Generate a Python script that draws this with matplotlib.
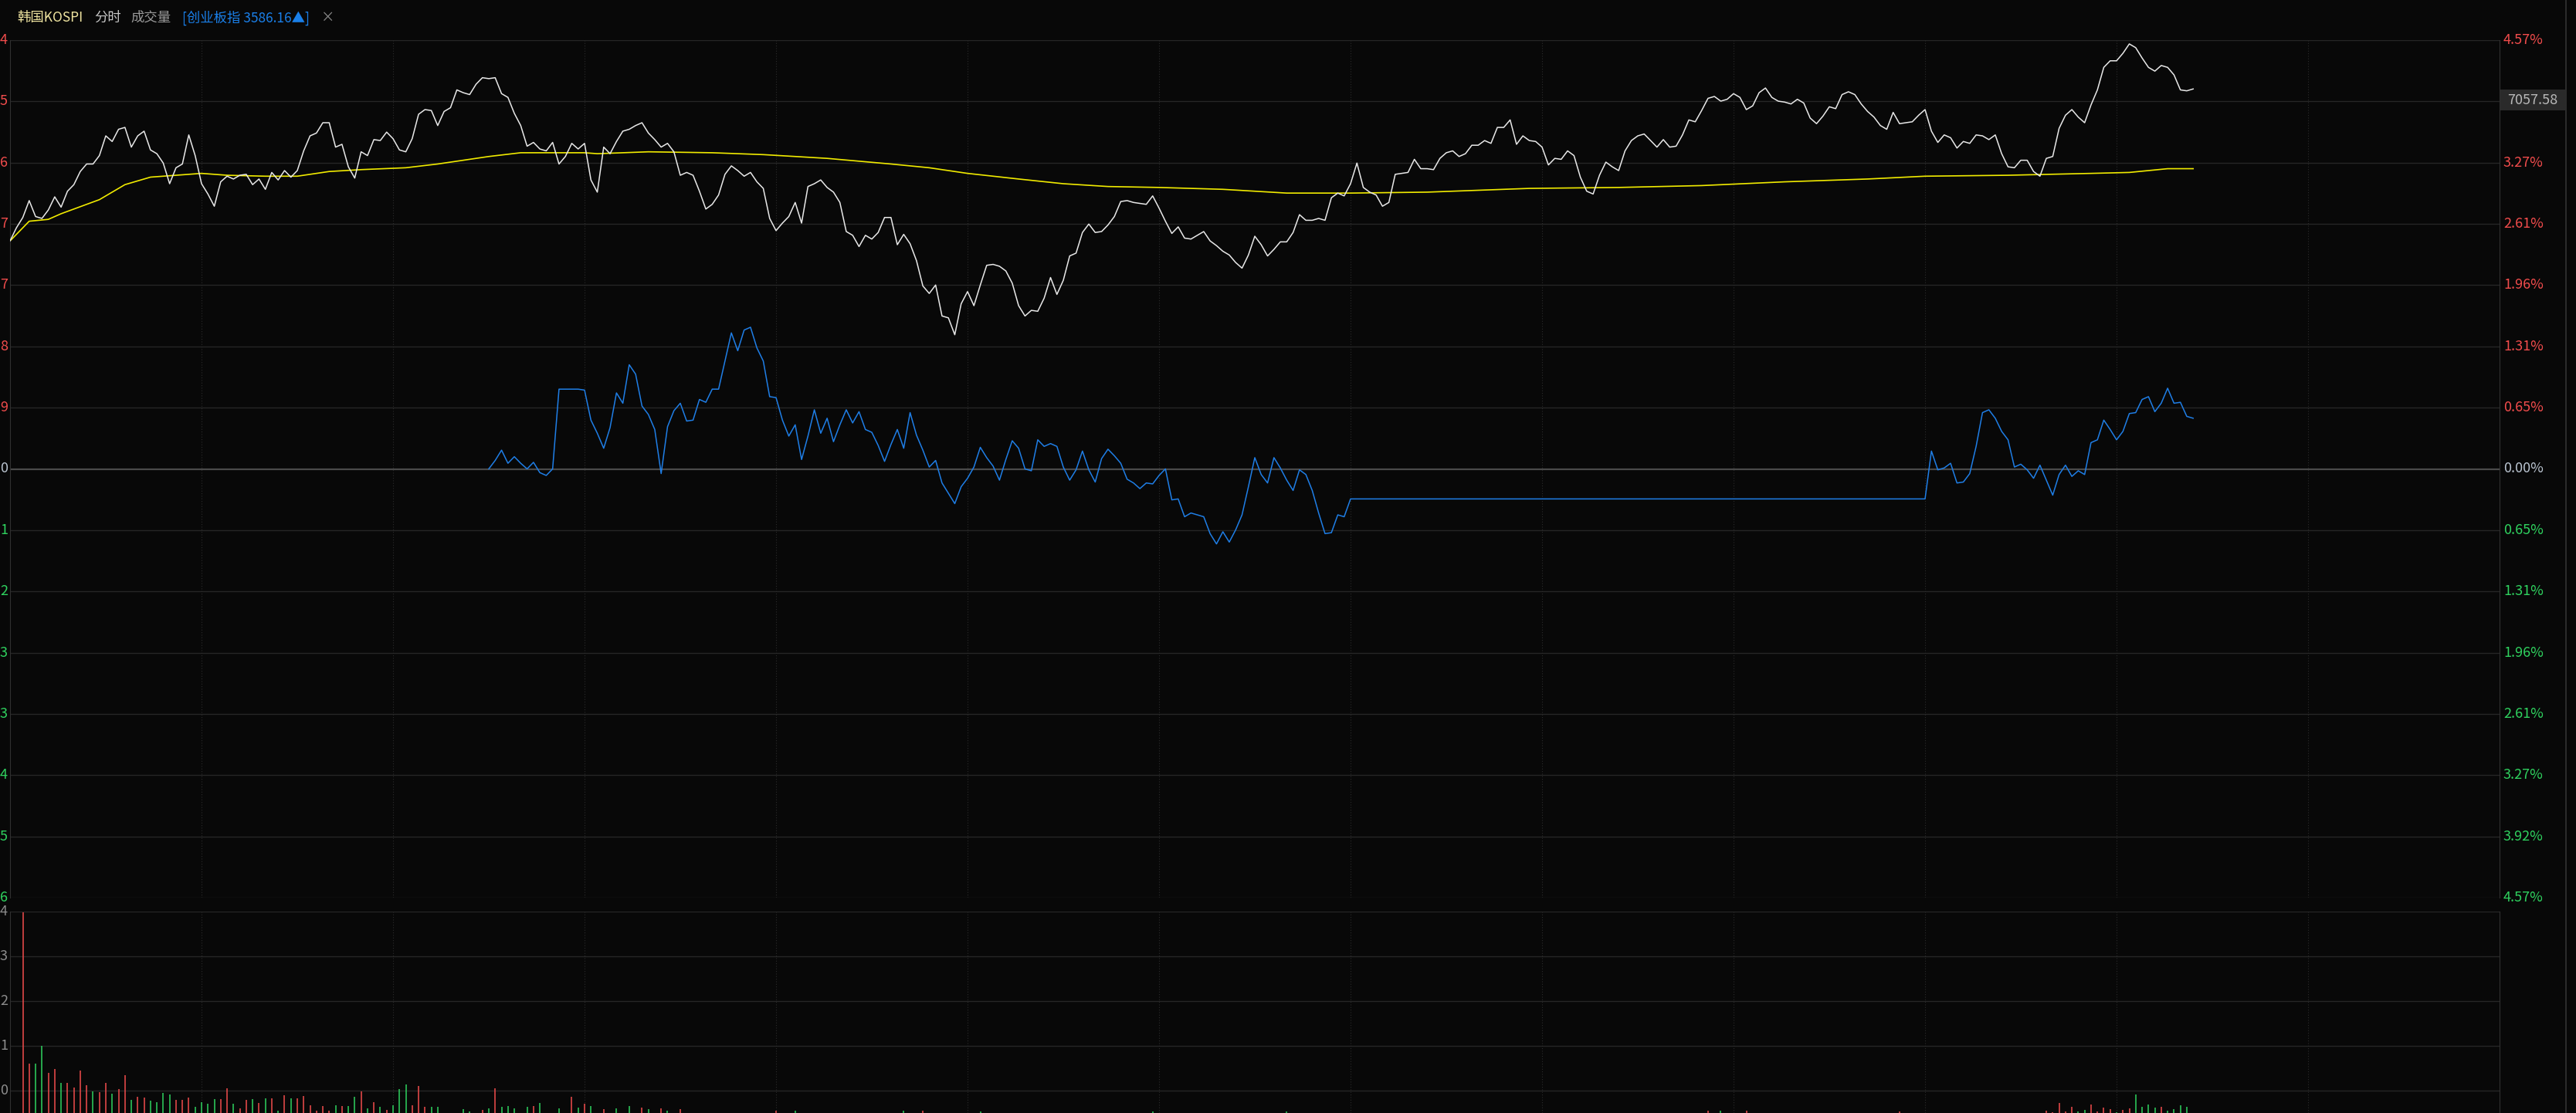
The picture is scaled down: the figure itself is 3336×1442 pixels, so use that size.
import matplotlib
matplotlib.use('Agg')
import matplotlib.pyplot as plt
from matplotlib.patches import Rectangle
from matplotlib.lines import Line2D

plt.rcParams['font.family'] = ['Noto Sans CJK SC', 'DejaVu Sans']

# 韩国KOSPI 分时: % change vs previous close, one value per minute from 09:00
price_pct = [
    2.43, 2.57, 2.68, 2.86, 2.69, 2.67, 2.76, 2.90, 2.79, 2.96,
    3.03, 3.17, 3.25, 3.25, 3.34, 3.55, 3.49, 3.62, 3.64, 3.43,
    3.55, 3.60, 3.40, 3.36, 3.26, 3.04, 3.21, 3.25, 3.56, 3.34,
    3.04, 2.93, 2.80, 3.06, 3.12, 3.09, 3.13, 3.14, 3.03, 3.09,
    2.98, 3.16, 3.08, 3.18, 3.11, 3.18, 3.39, 3.55, 3.58, 3.69,
    3.69, 3.43, 3.46, 3.22, 3.10, 3.38, 3.34, 3.51, 3.50, 3.59,
    3.52, 3.40, 3.38, 3.52, 3.78, 3.83, 3.82, 3.66, 3.81, 3.85,
    4.04, 4.01, 3.99, 4.10, 4.17, 4.16, 4.17, 4.00, 3.96, 3.79,
    3.66, 3.44, 3.48, 3.41, 3.39, 3.48, 3.25, 3.33, 3.47, 3.41,
    3.47, 3.08, 2.95, 3.43, 3.36, 3.49, 3.60, 3.62, 3.66, 3.69,
    3.58, 3.51, 3.43, 3.47, 3.38, 3.13, 3.16, 3.13, 2.96, 2.77,
    2.82, 2.92, 3.14, 3.23, 3.18, 3.12, 3.16, 3.06, 2.99, 2.67,
    2.54, 2.62, 2.69, 2.84, 2.62, 3.01, 3.04, 3.08, 3.00, 2.95,
    2.84, 2.53, 2.49, 2.37, 2.49, 2.45, 2.52, 2.68, 2.68, 2.39,
    2.50, 2.40, 2.22, 1.95, 1.87, 1.96, 1.63, 1.61, 1.43, 1.76,
    1.89, 1.74, 1.96, 2.17, 2.18, 2.16, 2.11, 1.98, 1.74, 1.63,
    1.69, 1.68, 1.82, 2.04, 1.86, 2.01, 2.27, 2.30, 2.52, 2.61,
    2.52, 2.53, 2.60, 2.69, 2.85, 2.86, 2.84, 2.83, 2.82, 2.91,
    2.78, 2.64, 2.51, 2.58, 2.46, 2.45, 2.49, 2.53, 2.43, 2.38,
    2.32, 2.28, 2.20, 2.14, 2.28, 2.48, 2.39, 2.27, 2.34, 2.42,
    2.42, 2.52, 2.71, 2.65, 2.65, 2.67, 2.65, 2.89, 2.94, 2.91,
    3.04, 3.26, 3.00, 2.95, 2.92, 2.80, 2.84, 3.14, 3.15, 3.16,
    3.30, 3.20, 3.20, 3.19, 3.31, 3.37, 3.39, 3.33, 3.36, 3.45,
    3.45, 3.50, 3.47, 3.64, 3.64, 3.72, 3.46, 3.55, 3.50, 3.49,
    3.43, 3.24, 3.31, 3.30, 3.39, 3.34, 3.11, 2.96, 2.93, 3.13,
    3.27, 3.22, 3.18, 3.39, 3.50, 3.55, 3.57, 3.50, 3.43, 3.51,
    3.43, 3.44, 3.56, 3.72, 3.70, 3.82, 3.95, 3.97, 3.92, 3.94,
    4.00, 3.96, 3.83, 3.87, 4.01, 4.06, 3.96, 3.92, 3.91, 3.89,
    3.94, 3.90, 3.74, 3.68, 3.76, 3.86, 3.84, 3.99, 4.02, 3.99,
    3.89, 3.81, 3.75, 3.66, 3.62, 3.80, 3.68, 3.69, 3.70, 3.77,
    3.83, 3.60, 3.48, 3.56, 3.53, 3.42, 3.49, 3.47, 3.56, 3.55,
    3.51, 3.56, 3.36, 3.22, 3.21, 3.29, 3.29, 3.17, 3.12, 3.31,
    3.33, 3.63, 3.77, 3.83, 3.75, 3.69, 3.88, 4.04, 4.28, 4.35,
    4.35, 4.43, 4.53, 4.49, 4.38, 4.28, 4.24, 4.30, 4.28, 4.20,
    4.04, 4.03, 4.05,
]

# 均价 (yellow), read at a few minutes
avg_min = [0, 1, 3, 6, 8, 10, 14, 18, 22, 26, 30, 34, 40, 45, 50, 55, 62, 67,
           75, 80, 90, 92, 100, 110, 118, 128, 138, 144, 150, 158, 165, 172,
           180, 190, 200, 210, 222, 238, 252, 265, 278, 291, 300, 313, 326,
           332, 338, 342]
avg_pct = [2.43, 2.50, 2.64, 2.66, 2.72, 2.77, 2.87, 3.03, 3.11, 3.13, 3.15,
           3.13, 3.12, 3.12, 3.17, 3.19, 3.21, 3.25, 3.33, 3.37, 3.37, 3.36,
           3.38, 3.37, 3.35, 3.31, 3.25, 3.21, 3.15, 3.09, 3.04, 3.01, 3.00,
           2.98, 2.94, 2.94, 2.95, 2.99, 3.00, 3.02, 3.06, 3.09, 3.12, 3.13,
           3.15, 3.16, 3.20, 3.20]

# [创业板指] overlay, % change; no quotes between 210 and 300
cyb_min = list(range(75, 211)) + list(range(300, 343))
cyb_pct = [
    0.00, 0.09, 0.20, 0.06, 0.13, 0.06, 0.00, 0.07, -0.04, -0.07,
    0.00, 0.85, 0.85, 0.85, 0.85, 0.84, 0.52, 0.38, 0.22, 0.44,
    0.81, 0.70, 1.11, 1.01, 0.67, 0.58, 0.42, -0.05, 0.45, 0.62,
    0.70, 0.51, 0.52, 0.74, 0.71, 0.85, 0.85, 1.15, 1.45, 1.26,
    1.48, 1.51, 1.29, 1.15, 0.77, 0.76, 0.52, 0.35, 0.47, 0.10,
    0.35, 0.63, 0.38, 0.54, 0.29, 0.47, 0.63, 0.49, 0.61, 0.42,
    0.39, 0.25, 0.08, 0.26, 0.42, 0.22, 0.60, 0.36, 0.20, 0.02,
    0.09, -0.15, -0.26, -0.37, -0.19, -0.10, 0.02, 0.23, 0.12, 0.03,
    -0.12, 0.10, 0.30, 0.22, 0.00, -0.02, 0.31, 0.24, 0.27, 0.24,
    0.02, -0.12, -0.01, 0.19, -0.01, -0.14, 0.11, 0.21, 0.14, 0.06,
    -0.11, -0.15, -0.21, -0.15, -0.16, -0.07, 0.00, -0.33, -0.32, -0.51,
    -0.47, -0.49, -0.51, -0.69, -0.80, -0.67, -0.78, -0.65, -0.49, -0.19,
    0.12, -0.06, -0.15, 0.12, 0.01, -0.12, -0.23, -0.01, -0.06, -0.23,
    -0.47, -0.69, -0.68, -0.49, -0.51, -0.32,
    -0.32, 0.19, -0.01, 0.01, 0.06, -0.15, -0.14, -0.05, 0.24, 0.60,
    0.63, 0.54, 0.40, 0.31, 0.02, 0.05, -0.01, -0.10, 0.04, -0.12,
    -0.28, -0.06, 0.04, -0.08, -0.02, -0.06, 0.28, 0.31, 0.52, 0.42,
    0.31, 0.40, 0.59, 0.60, 0.74, 0.77, 0.61, 0.70, 0.86, 0.70,
    0.71, 0.56, 0.54,
]

# 成交量, in grid steps above the panel's lower edge; 1 = up (red), 0 = down (green)
vol_min = list(range(2, 84)) + [86, 88, 89, 90, 91, 93, 95, 97, 99, 100, 102, 103, 105,
                                 120, 123, 140, 143, 152, 179, 200, 266, 268, 272, 296,
                                 319, 320, 321, 322, 323, 324, 325, 326, 327, 328, 329, 330,
                                 331, 332, 333, 334, 335, 336, 337, 338, 339, 340, 341]
vol_val = [4.49, 1.10, 1.10, 1.50, 0.90, 0.99, 0.67, 0.67, 0.57, 0.94,
           0.62, 0.49, 0.47, 0.68, 0.43, 0.53, 0.84, 0.29, 0.37, 0.34,
           0.28, 0.24, 0.45, 0.41, 0.29, 0.29, 0.34, 0.14, 0.24, 0.21,
           0.31, 0.31, 0.55, 0.21, 0.10, 0.29, 0.31, 0.22, 0.32, 0.32,
           0.05, 0.40, 0.32, 0.32, 0.38, 0.17, 0.06, 0.15, 0.05, 0.17,
           0.15, 0.15, 0.36, 0.48, 0.10, 0.24, 0.13, 0.07, 0.18, 0.53,
           0.63, 0.18, 0.60, 0.13, 0.13, 0.13, 0.00, 0.00, 0.00, 0.08,
           0.03, 0.00, 0.07, 0.11, 0.56, 0.13, 0.15, 0.11, 0.00, 0.13,
           0.15, 0.22,
           0.10, 0.36, 0.12, 0.20, 0.15, 0.08, 0.10, 0.15, 0.12, 0.08, 0.10, 0.06, 0.08,
           0.05, 0.06, 0.05, 0.05, 0.04, 0.04, 0.04, 0.06, 0.05, 0.05, 0.04,
           0.05, 0.02, 0.22, 0.03, 0.14, 0.03, 0.07, 0.19, 0.03, 0.12, 0.09, 0.02,
           0.07, 0.10, 0.41, 0.14, 0.19, 0.12, 0.14, 0.05, 0.09, 0.17, 0.14]
vol_up = [1, 1, 0, 0, 1, 1, 0, 1, 1, 1,
          1, 0, 1, 1, 0, 1, 1, 0, 1, 1,
          0, 0, 0, 0, 1, 1, 1, 0, 0, 0,
          0, 1, 1, 0, 1, 1, 0, 1, 0, 1,
          0, 1, 0, 1, 1, 1, 1, 1, 1, 0,
          1, 0, 0, 1, 0, 1, 0, 1, 0, 0,
          0, 1, 1, 1, 0, 0, 0, 0, 0, 0,
          0, 0, 1, 0, 1, 0, 0, 0, 0, 0,
          1, 0,
          0, 1, 0, 1, 0, 1, 0, 0, 1, 0, 1, 0, 1,
          1, 0, 0, 1, 0, 0, 0, 1, 0, 1, 1,
          1, 1, 1, 1, 1, 0, 0, 1, 1, 1, 1, 0,
          1, 1, 0, 0, 0, 0, 1, 0, 0, 0, 0]

step = 0.6529  # % per grid line
right_labels = ['4.57%', '', '3.27%', '2.61%', '1.96%', '1.31%', '0.65%', '0.00%',
                '0.65%', '1.31%', '1.96%', '2.61%', '3.27%', '3.92%', '4.57%']
left_labels = ['4', '5', '6', '7', '7', '8', '9', '0', '1', '2', '3', '3', '4', '5', '6']
vol_labels = ['4', '3', '2', '1', '0']
last_price = '7057.58'

W, H = 3336, 1442
BG = '#080808'
GRID = '#262626'
RED = '#f24c4c'
GREEN = '#2fd35f'
ZERO = '#b9c3cf'


def px(x, y):
    # pixel (from top-left) -> figure fraction
    return x / W, (H - y) / H


def main():
    fig = plt.figure(figsize=(W / 100, H / 100), dpi=100, facecolor=BG)

    ax = fig.add_axes([13 / W, (H - 1163) / H, 3224 / W, 1111 / H], facecolor=BG)
    ax.set_xlim(0, 390)
    ax.set_ylim(-7 * step, 7 * step)
    for k in range(-7, 8):
        if k == 0:
            ax.axhline(0, color='#4a4a4a', lw=1.6, zorder=1)
        else:
            ax.axhline(k * step, color=GRID, lw=1.0, zorder=1)
    for t in range(30, 390, 30):
        ax.axvline(t, color='#2c2c2c', lw=0.8, ls=(0, (1, 2)), zorder=1)

    ax.plot(range(len(price_pct)), price_pct, color='#e8e8e8', lw=1.1, zorder=3)
    ax.plot(avg_min, avg_pct, color='#f0ea00', lw=1.2, zorder=2)
    ax.plot(cyb_min, cyb_pct, color='#1f7ee6', lw=1.1, zorder=2)

    ax.set_xticks([])
    ax.set_yticks([])
    for s in ['top', 'bottom']:
        ax.spines[s].set_visible(False)
    for s in ['left', 'right']:
        ax.spines[s].set_color('#303030')

    # right percent labels + truncated left price labels
    for i in range(15):
        k = 7 - i
        y = (H - (52 + i * 1111 / 14)) / H
        col = RED if k > 0 else (GREEN if k < 0 else ZERO)
        if right_labels[i]:
            fig.text(3242 / W, y, right_labels[i], color=col, fontsize=13,
                     ha='left', va='center')
        fig.text(10 / W, y, left_labels[i], color=col, fontsize=13,
                 ha='right', va='center')

    # price box on the 3.92% line
    bx, by = px(3238, 143)
    fig.patches.append(Rectangle((bx, by), 84 / W, 27 / H, transform=fig.transFigure,
                                 facecolor='#2a2a2a', edgecolor='none'))
    fig.text(*px(3280, 130), last_price, color='#b8b8b8', fontsize=13,
             ha='center', va='center')

    # volume panel
    axv = fig.add_axes([13 / W, 0, 3224 / W, 261 / H], facecolor=BG)
    axv.set_xlim(0, 390)
    axv.set_ylim(0, 4.5)
    for v in [0.5, 1.5, 2.5, 3.5, 4.5]:
        axv.axhline(v, color=GRID, lw=1.0, zorder=1)
    for t in range(30, 390, 30):
        axv.axvline(t, color='#2c2c2c', lw=0.8, ls=(0, (1, 2)), zorder=1)
    cols = [RED if u else GREEN for u in vol_up]
    axv.vlines(vol_min, 0, vol_val, colors=cols, lw=1.1, zorder=2)
    axv.set_xticks([])
    axv.set_yticks([])
    for s in ['top', 'bottom']:
        axv.spines[s].set_visible(False)
    for s in ['left', 'right']:
        axv.spines[s].set_color('#303030')
    for i, lab in enumerate(vol_labels):
        fig.text(10 / W, (H - (1181 + i * 58)) / H, lab, color='#8c8c8c',
                 fontsize=13, ha='right', va='center')

    # header
    fig.text(*px(22, 23), '韩国KOSPI', color='#efe4a0', fontsize=12.5, va='center')
    fig.text(*px(122, 23), '分时', color='#c8c8c8', fontsize=12.5, va='center')
    fig.text(*px(169, 23), '成交量', color='#9a9a9a', fontsize=12.5, va='center')
    fig.text(*px(236, 23), '[创业板指 3586.16▲]', color='#1a7fe8', fontsize=12.5,
             va='center')
    fig.text(*px(416, 23), '×', color='#8a8a8a', fontsize=12.5, va='center')

    # right frame line
    fig.add_artist(Line2D([3323 / W, 3323 / W], [0, 1], color='#333333', lw=1.2))

    fig.savefig('out.png', dpi=100, facecolor=BG)


if __name__ == '__main__':
    main()
